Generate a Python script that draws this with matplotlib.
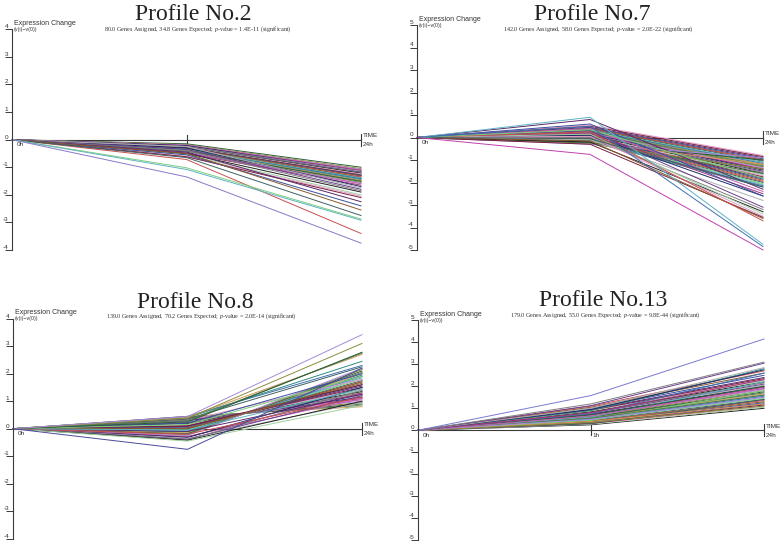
import matplotlib
matplotlib.use("Agg")
import matplotlib.pyplot as plt

# ------------------------------------------------------------
# dados (0h = 0, depois 1h e 24h)
# ------------------------------------------------------------
tempos = ["0h", "1h", "24h"]

p2_1h = [
    -0.15, -0.18, -0.20, -0.20, -0.22, -0.22, -0.25, -0.25, -0.25, -0.28,
    -0.28, -0.30, -0.30, -0.30, -0.32, -0.32, -0.35, -0.35, -0.35, -0.38,
    -0.38, -0.40, -0.40, -0.42, -0.42, -0.45, -0.45, -0.48, -0.50, -0.30,
    -0.25, -0.35, -0.40, -0.50, -0.55, -0.60, -0.62, -0.45, -0.55, -0.50,
    -0.72, -0.65, -1.02, -1.08, -1.35]
p2_24h = [
    -1.00, -1.05, -1.08, -1.10, -1.12, -1.15, -1.15, -1.18, -1.20, -1.22,
    -1.25, -1.25, -1.28, -1.30, -1.30, -1.32, -1.35, -1.38, -1.40, -1.40,
    -1.42, -1.45, -1.48, -1.50, -1.52, -1.55, -1.58, -1.60, -1.65, -1.70,
    -1.75, -1.80, -1.85, -1.90, -2.00, -2.05, -2.10, -2.25, -2.40, -2.55,
    -3.40, -2.75, -2.88, -2.92, -3.75]

p7_1h = [
    0.55, 0.50, 0.45, 0.42, 0.40, 0.38, 0.35, 0.32, 0.30, 0.30,
    0.28, 0.25, 0.25, 0.22, 0.20, 0.20, 0.18, 0.15, 0.15, 0.12,
    0.10, 0.10, 0.08, 0.05, 0.05, 0.02, 0.00, 0.00, -0.02, -0.05,
    -0.08, -0.10, -0.12, -0.15, -0.18, -0.20, -0.22, -0.25, -0.28, -0.30,
    0.40, 0.20, 0.10, -0.10, 0.30, 0.00, -0.20, 0.15, 0.05, -0.30,
    0.80, 0.60, -0.15, 0.25, -0.05, 0.35, 0.90, 0.50, -0.75]
p7_24h = [
    -0.80, -0.85, -0.90, -0.95, -1.00, -1.00, -1.05, -1.10, -1.10, -1.15,
    -1.20, -1.20, -1.25, -1.30, -1.30, -1.35, -1.40, -1.40, -1.45, -1.50,
    -1.50, -1.55, -1.60, -1.65, -1.70, -1.75, -1.80, -1.85, -1.90, -1.95,
    -2.00, -2.05, -2.10, -2.15, -2.20, -1.20, -1.60, -1.00, -1.40, -0.90,
    -2.40, -2.50, -2.60, -2.80, -3.10, -3.20, -3.30, -3.40, -3.50, -3.55,
    -2.30, -2.60, -3.60, -3.70, -2.20, -1.80, -4.75, -4.85, -5.00]

p8_1h = [
    0.45, 0.42, 0.40, 0.38, 0.35, 0.32, 0.30, 0.28, 0.25, 0.22,
    0.20, 0.18, 0.15, 0.12, 0.10, 0.08, 0.05, 0.02, 0.00, -0.02,
    -0.05, -0.08, -0.10, -0.12, -0.15, -0.18, -0.20, -0.22, -0.25, -0.28,
    -0.30, -0.32, -0.35, -0.38, -0.40, -0.42, -0.45, 0.30, 0.10, -0.10,
    0.20, 0.00, -0.20, 0.35, 0.15, -0.05, 0.45, 0.40, 0.42, 0.30,
    0.25, 0.38, 0.44, -0.75]
p8_24h = [
    0.80, 0.85, 0.90, 0.95, 1.00, 1.05, 1.10, 1.15, 1.20, 1.25,
    1.30, 1.35, 1.40, 1.45, 1.50, 1.55, 1.60, 1.65, 1.70, 1.75,
    1.80, 1.85, 1.90, 1.95, 2.00, 2.05, 2.10, 2.15, 2.20, 1.10,
    1.30, 1.50, 0.95, 1.20, 1.40, 1.00, 0.85, 1.80, 1.60, 1.25,
    2.00, 1.70, 1.15, 2.25, 1.90, 1.45, 2.30, 2.45, 2.70, 2.75,
    2.78, 3.10, 3.42, 2.20]

p13_1h = [
    0.25, 0.28, 0.30, 0.32, 0.35, 0.38, 0.40, 0.42, 0.45, 0.48,
    0.50, 0.52, 0.55, 0.58, 0.60, 0.62, 0.65, 0.68, 0.70, 0.72,
    0.75, 0.78, 0.80, 0.82, 0.85, 0.88, 0.90, 0.92, 0.95, 1.00,
    1.05, 1.10, 0.30, 0.45, 0.60, 0.75, 0.90, 0.40, 0.55, 0.70,
    0.35, 0.50, 0.65, 0.80, 0.95, 1.00, 1.12, 1.20, 1.58]
p13_24h = [
    1.00, 1.05, 1.10, 1.15, 1.20, 1.25, 1.30, 1.35, 1.40, 1.45,
    1.50, 1.55, 1.60, 1.65, 1.70, 1.75, 1.80, 1.85, 1.90, 1.95,
    2.00, 2.05, 2.10, 2.15, 2.20, 2.25, 2.30, 2.35, 2.40, 2.50,
    2.60, 2.70, 1.40, 1.80, 2.20, 2.60, 2.80, 1.20, 1.60, 2.00,
    1.10, 1.50, 1.90, 2.30, 2.75, 2.85, 3.05, 3.10, 4.15]

titulos = ["Profile No.2", "Profile No.7", "Profile No.8", "Profile No.13"]
subtitulos = [
    "80.0 Genes Assigned, 34.8 Genes Expected; $p$-value = 1.4E-11 (significant)",
    "142.0 Genes Assigned, 58.0 Genes Expected; $p$-value = 2.0E-22 (significant)",
    "139.0 Genes Assigned, 70.2 Genes Expected; $p$-value = 2.0E-14 (significant)",
    "179.0 Genes Assigned, 55.0 Genes Expected; $p$-value = 9.8E-44 (significant)",
]
limites_y = [4, 5, 4, 5]

# cores parecidas com as do STEM
paleta = ['#2b5d3a', '#6a3d8f', '#3b4fa0', '#2f8c84', '#a8327a', '#e39ac8',
          '#7ccf7c', '#8c8c3c', '#7f7f7f', '#8a5a2e', '#d69a5a', '#1e2a66',
          '#7a1f3d', '#5fb3c4', '#a88ad8', '#222222', '#c75050', '#4f7f4f',
          '#b0b0b0', '#5a2a6a', '#3f6fb0', '#c060b0', '#9fd0a0', '#406060']
cor_destaque = ['#8a78c8', '#c040b0', '#4a4a9a', '#7a7ad0']

# ------------------------------------------------------------
# layout em pixels (780 x 544)
# ------------------------------------------------------------
W, H = 780, 544
caixas = [(12, 361, 29.3, 250), (417, 763, 25, 250),
          (13, 362, 318.7, 538.7), (418, 764, 320.3, 540.3)]
pos_titulo = [(193, 20), (592.5, 19.5), (195.5, 308), (603, 306.5)]
pos_sub = [(197.5, 28.7), (598, 29), (201, 316.6), (605, 315)]
mostrar_1h = [False, False, False, True]

plt.rcParams['mathtext.fontset'] = 'custom'
plt.rcParams['mathtext.rm'] = 'Liberation Serif'
plt.rcParams['mathtext.it'] = 'Liberation Serif:italic'

fig = plt.figure(figsize=(7.8, 5.44), dpi=100)

dados = [(p2_1h, p2_24h), (p7_1h, p7_24h), (p8_1h, p8_24h), (p13_1h, p13_24h)]
eixo_cor = '#3a3a3a'

for i, (v1, v24) in enumerate(dados):
    x0, x1, yt, yb = caixas[i]
    ax = fig.add_axes([x0 / W, 1 - yb / H, (x1 - x0) / W, (yb - yt) / H])
    lim = limites_y[i]
    ax.set_xlim(0, 2)
    ax.set_ylim(-lim, lim)
    ax.patch.set_alpha(0)

    for s in ['top', 'right', 'bottom']:
        ax.spines[s].set_visible(False)
    ax.spines['left'].set_color(eixo_cor)
    ax.spines['left'].set_linewidth(0.8)
    ax.set_xticks([])
    ticks = list(range(-lim, lim + 1))
    ax.set_yticks(ticks)
    ax.set_yticklabels([str(t) for t in ticks], va='bottom', fontsize=4.6,
                       family='Liberation Sans', color='#333333')
    ax.tick_params(axis='y', direction='out', length=5, width=0.7,
                   color=eixo_cor, pad=-2.2)

    # eixo do tempo
    ax.plot([0, 2], [0, 0], color=eixo_cor, lw=0.8, zorder=1, clip_on=False)
    ax.plot([2, 2], [0.473, 0.527], color=eixo_cor, lw=0.8,
            transform=ax.get_xaxis_transform(), clip_on=False, zorder=1)
    ax.plot([1, 1], [0.478, 0.522], color=eixo_cor, lw=0.8,
            transform=ax.get_xaxis_transform(), clip_on=False, zorder=1)

    fonte_eixo = dict(fontsize=4.6, family='Liberation Sans', color='#333333')
    ax.annotate("0h", xy=(0, 0), xytext=(3.5, -2), textcoords='offset points',
                ha='left', va='top', zorder=0, **fonte_eixo)
    if mostrar_1h[i]:
        ax.annotate("1h", xy=(1, 0), xytext=(0.8, -2), textcoords='offset points',
                    ha='left', va='top', zorder=0, **fonte_eixo)
    ax.annotate("24h", xy=(2, 0), xytext=(1.2, -2), textcoords='offset points',
                ha='left', va='top', zorder=0, **fonte_eixo)
    ax.annotate("TIME", xy=(2, 0), xytext=(1.2, 1), textcoords='offset points',
                ha='left', va='bottom', zorder=0, **fonte_eixo)
    ax.annotate("Expression Change", xy=(0, lim), xytext=(1.5, 1.6),
                textcoords='offset points', ha='left', va='bottom',
                fontsize=5.0, family='Liberation Sans', color='#333333')
    ax.annotate("(v(i)\u2212v(0))", xy=(0, lim), xytext=(1.5, 1.6),
                textcoords='offset points', ha='left', va='top',
                fontsize=3.8, family='Liberation Sans', color='#333333')

    # perfis dos genes
    n = len(v1)
    for k, (a, b) in enumerate(zip(v1, v24)):
        cor = cor_destaque[i] if k == n - 1 else paleta[(k * 7 + i * 5) % len(paleta)]
        ax.plot([0, 1, 2], [0, a, b], color=cor, lw=0.7, zorder=2,
                clip_on=False, solid_joinstyle='miter')

    tx, ty = pos_titulo[i]
    fig.text(tx / W, 1 - ty / H, titulos[i], ha='center', va='baseline',
             fontsize=17, family='Liberation Serif', color='#222222')
    sx, sy = pos_sub[i]
    fig.text(sx / W, 1 - sy / H, subtitulos[i], ha='center', va='center',
             fontsize=4.4, family='Liberation Serif', color='#333333')

fig.savefig("out.png", dpi=100)
